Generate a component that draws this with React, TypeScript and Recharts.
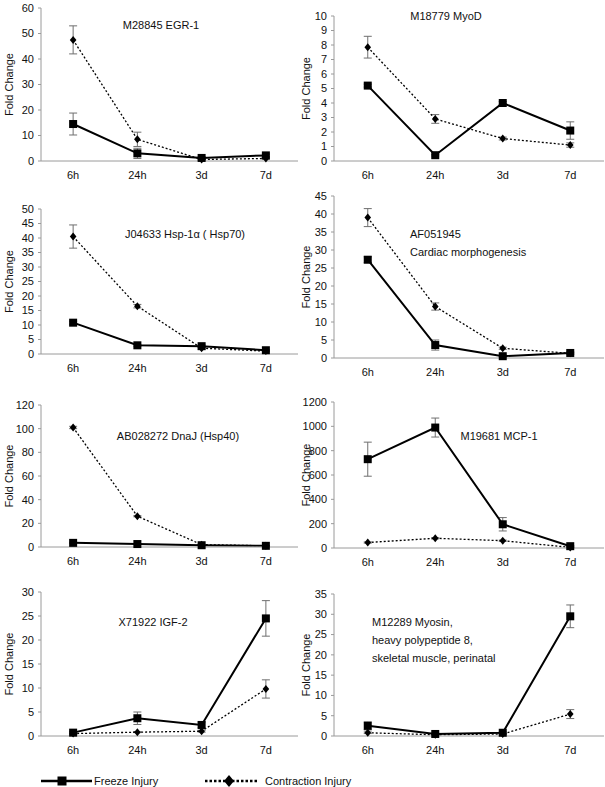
import { LineChart, Line, XAxis, YAxis, ErrorBar, Label } from "recharts";

/* gene expression time course, 8 small panels + shared legend */
const FONT = '"Liberation Sans", Arial, Helvetica, sans-serif';
const INK = "#111";
const AXIS = "#9a9a9a";
const ERR = "#6f6f6f";

const TIMES = ["6h", "24h", "3d", "7d"];

// M28845 EGR-1
const egrFreeze = [14.5, 3.0, 1.2, 2.2];
const egrFreezeErr = [4.3, 2.0, 0.5, 0.5];
const egrContr = [47.5, 8.5, 0.6, 1.0];
const egrContrErr = [5.5, 2.8, 0.3, 0.3];
const egrTicks = [0, 10, 20, 30, 40, 50, 60];

// M18779 MyoD
const myodFreeze = [5.2, 0.4, 4.0, 2.1];
const myodFreezeErr = [0.1, 0.05, 0.1, 0.6];
const myodContr = [7.85, 2.9, 1.55, 1.1];
const myodContrErr = [0.75, 0.3, 0.1, 0.15];
const myodTicks = [0, 1, 2, 3, 4, 5, 6, 7, 8, 9, 10];

// J04633 Hsp-1a (Hsp70)
const hspFreeze = [10.8, 3.0, 2.7, 1.3];
const hspFreezeErr = [0.5, 0.3, 0.4, 0.3];
const hspContr = [40.5, 16.5, 2.0, 1.0];
const hspContrErr = [4.0, 0.6, 0.3, 0.2];
const hspTicks = [0, 5, 10, 15, 20, 25, 30, 35, 40, 45, 50];

// AF051945 cardiac morphogenesis
const cardFreeze = [27.3, 3.6, 0.5, 1.4];
const cardFreezeErr = [0.8, 1.4, 0.3, 0.3];
const cardContr = [39.0, 14.3, 2.7, 1.3];
const cardContrErr = [2.5, 1.0, 0.3, 0.2];
const cardTicks = [0, 5, 10, 15, 20, 25, 30, 35, 40, 45];

// AB028272 DnaJ (Hsp40)
const dnajFreeze = [3.5, 2.5, 1.5, 1.0];
const dnajFreezeErr = [0.5, 0.3, 0.2, 0.2];
const dnajContr = [101, 26, 2, 1];
const dnajContrErr = [1, 0.5, 0.3, 0.2];
const dnajTicks = [0, 20, 40, 60, 80, 100, 120];

// M19681 MCP-1
const mcpFreeze = [730, 990, 195, 15];
const mcpFreezeErr = [140, 78, 55, 5];
const mcpContr = [45, 80, 60, 5];
const mcpContrErr = [5, 5, 5, 2];
const mcpTicks = [0, 200, 400, 600, 800, 1000, 1200];

// X71922 IGF-2
const igfFreeze = [0.7, 3.7, 2.3, 24.5];
const igfFreezeErr = [0.2, 1.3, 0.6, 3.7];
const igfContr = [0.5, 0.8, 1.0, 9.8];
const igfContrErr = [0.1, 0.1, 0.2, 1.9];
const igfTicks = [0, 5, 10, 15, 20, 25, 30];

// M12289 Myosin heavy polypeptide 8
const myhFreeze = [2.5, 0.5, 0.8, 29.5];
const myhFreezeErr = [1.0, 0.2, 0.2, 2.8];
const myhContr = [0.8, 0.3, 0.5, 5.4];
const myhContrErr = [0.2, 0.1, 0.1, 1.1];
const myhTicks = [0, 5, 10, 15, 20, 25, 30, 35];

const rows = (f: number[], fe: number[], c: number[], ce: number[]) =>
  TIMES.map((t, i) => ({ t, f: f[i], fe: fe[i], c: c[i], ce: ce[i] }));

const panels = [
  { title: ["M28845 EGR-1"], data: rows(egrFreeze, egrFreezeErr, egrContr, egrContrErr), ticks: egrTicks, col: 0, yTop: 8, yBottom: 161, tx: 161, ty: 25, center: true },
  { title: ["M18779 MyoD"], data: rows(myodFreeze, myodFreezeErr, myodContr, myodContrErr), ticks: myodTicks, col: 1, yTop: 16, yBottom: 161, tx: 446, ty: 16, center: true },
  { title: ["J04633 Hsp-1\u03b1 ( Hsp70)"], data: rows(hspFreeze, hspFreezeErr, hspContr, hspContrErr), ticks: hspTicks, col: 0, yTop: 209, yBottom: 354, tx: 185, ty: 234, center: true },
  { title: ["AF051945", "Cardiac morphogenesis"], data: rows(cardFreeze, cardFreezeErr, cardContr, cardContrErr), ticks: cardTicks, col: 1, yTop: 196, yBottom: 358, tx: 410, ty: 234, center: false },
  { title: ["AB028272 DnaJ (Hsp40)"], data: rows(dnajFreeze, dnajFreezeErr, dnajContr, dnajContrErr), ticks: dnajTicks, col: 0, yTop: 405, yBottom: 547, tx: 178, ty: 436, center: true },
  { title: ["M19681 MCP-1"], data: rows(mcpFreeze, mcpFreezeErr, mcpContr, mcpContrErr), ticks: mcpTicks, col: 1, yTop: 402, yBottom: 548, tx: 499, ty: 436, center: true },
  { title: ["X71922 IGF-2"], data: rows(igfFreeze, igfFreezeErr, igfContr, igfContrErr), ticks: igfTicks, col: 0, yTop: 592, yBottom: 736, tx: 153, ty: 622, center: true },
  { title: ["M12289 Myosin,", "heavy polypeptide 8,", "skeletal muscle, perinatal"], data: rows(myhFreeze, myhFreezeErr, myhContr, myhContrErr), ticks: myhTicks, col: 1, yTop: 594, yBottom: 736, tx: 372, ty: 622, center: false },
];

function Square(p: any) {
  const { cx, cy, index } = p;
  if (cx == null || cy == null) return null;
  return <rect key={`s${index}`} x={cx - 4} y={cy - 4} width={8} height={8} fill="#000" />;
}

function Diamond(p: any) {
  const { cx, cy, index } = p;
  if (cx == null || cy == null) return null;
  return <polygon key={`d${index}`} points={`${cx},${cy - 4} ${cx + 3.3},${cy} ${cx},${cy + 4} ${cx - 3.3},${cy}`} fill="#000" />;
}

function foldLabel(dx: number) {
  return (props: any) => {
    const vb = props.viewBox || {};
    const x = vb.x + dx;
    const y = vb.y + vb.height / 2;
    return (
      <text x={x} y={y} transform={`rotate(-90 ${x} ${y})`} textAnchor="middle" dominantBaseline="central" fontSize={11} fill={INK} fontFamily={FONT}>
        Fold Change
      </text>
    );
  };
}

const TICK = { fontSize: 11, fill: INK, fontFamily: FONT } as const;

function Panel({ cfg }: { cfg: (typeof panels)[number] }) {
  const left = cfg.col === 0 ? 0 : 300;
  const width = cfg.col === 0 ? 300 : 305;
  const yw = cfg.col === 0 ? 41 : 34;
  const mr = cfg.col === 0 ? 2 : 1;
  const pad = (width - yw - mr) / 8;
  const top = cfg.yTop - 8;
  const height = cfg.yBottom - cfg.yTop + 8 + 28;
  const max = cfg.ticks[cfg.ticks.length - 1];
  return (
    <div style={{ position: "absolute", left, top, width, height }}>
      <LineChart width={width} height={height} data={cfg.data} margin={{ top: 8, right: mr, bottom: 0, left: 0 }}>
        <XAxis dataKey="t" height={28} padding={{ left: pad, right: pad }} axisLine={{ stroke: AXIS }} tickLine={false} tick={TICK} tickMargin={4} interval={0} />
        <YAxis width={yw} domain={[0, max]} ticks={cfg.ticks} interval={0} tickSize={3} tickLine={{ stroke: AXIS }} axisLine={{ stroke: AXIS }} tick={TICK} tickMargin={4}>
          <Label content={foldLabel(cfg.col === 0 ? 9 : 6)} />
        </YAxis>
        <Line dataKey="c" stroke="#000" strokeWidth={1.3} strokeDasharray="2 2" dot={Diamond} activeDot={false} isAnimationActive={false}>
          <ErrorBar dataKey="ce" direction="y" width={4} stroke={ERR} strokeWidth={1} />
        </Line>
        <Line dataKey="f" stroke="#000" strokeWidth={2} dot={Square} activeDot={false} isAnimationActive={false}>
          <ErrorBar dataKey="fe" direction="y" width={4} stroke={ERR} strokeWidth={1} />
        </Line>
      </LineChart>
    </div>
  );
}

// gene names drawn on one overlay, page coordinates
function Titles() {
  return (
    <svg width={605} height={787} style={{ position: "absolute", left: 0, top: 0, pointerEvents: "none" }}>
      {panels.map((p, i) => (
        <text key={i} fontSize={11} fill={INK} fontFamily={FONT} textAnchor={p.center ? "middle" : "start"}>
          {p.title.map((l, j) => (
            <tspan key={j} x={p.tx} y={p.ty + j * 18} dominantBaseline="central">
              {l}
            </tspan>
          ))}
        </text>
      ))}
    </svg>
  );
}

function LegendRow() {
  const y = 11;
  return (
    <svg width={400} height={22} style={{ position: "absolute", left: 0, top: 770 }}>
      <line x1={41} x2={92} y1={y} y2={y} stroke="#000" strokeWidth={2.5} />
      <rect x={57.5} y={y - 4.5} width={9} height={9} fill="#000" />
      <text x={94} y={y} dominantBaseline="central" fontSize={11} fill={INK} fontFamily={FONT}>Freeze Injury</text>
      <line x1={205} x2={257} y1={y} y2={y} stroke="#000" strokeWidth={2.5} strokeDasharray="2.5 2" />
      <polygon points={`229,${y - 6} 234,${y} 229,${y + 6} 224,${y}`} fill="#000" />
      <text x={265} y={y} dominantBaseline="central" fontSize={11} fill={INK} fontFamily={FONT}>Contraction Injury</text>
    </svg>
  );
}

export default function App() {
  return (
    <div style={{ position: "absolute", left: 0, top: 0, width: 605, height: 787, background: "#fff", overflow: "hidden" }}>
      {panels.map((p, i) => (
        <Panel key={i} cfg={p} />
      ))}
      <Titles />
      <LegendRow />
    </div>
  );
}
